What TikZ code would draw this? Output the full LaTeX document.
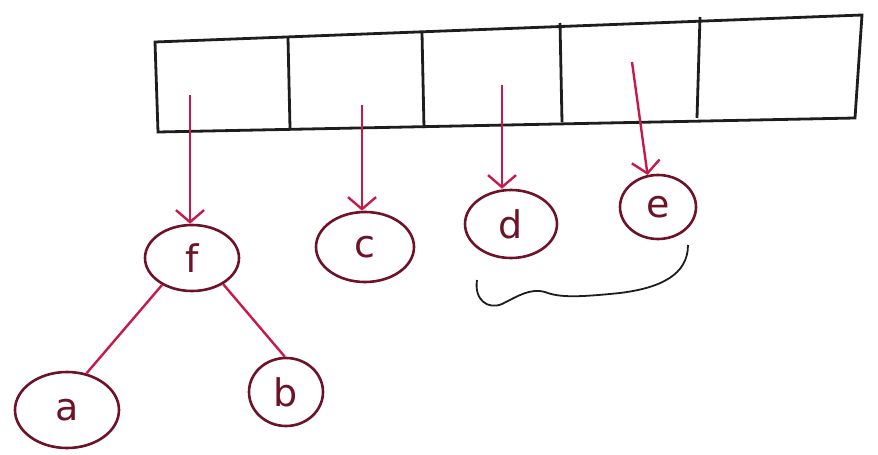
\documentclass[tikz,border=0pt]{standalone}
\usepackage{fontspec}
\setmainfont{DejaVu Sans}
\usetikzlibrary{shapes.geometric,arrows.meta}
\definecolor{ink}{RGB}{30,28,28}
\definecolor{pen}{RGB}{200,25,75}
\definecolor{circ}{RGB}{110,18,40}
\begin{document}
\begin{tikzpicture}[x=1pt,y=-1pt,
  arr/.style={line width=2.8pt,ink},
  ptr/.style={pen,line width=2.4pt,-{Straight Barb[length=12pt,width=28pt,line width=2.4pt]}},
  edge/.style={pen,line width=2.4pt},
  elem/.style={ellipse,draw=circ,line width=2.6pt,inner sep=0pt,text=circ,font=\fontsize{38}{38}\selectfont}]
\useasboundingbox (0,0) rectangle (878,455);
% array
\draw[arr] (155,42) -- (862,15) -- (855,118) -- (158,132) -- cycle;
\draw[arr] (288,38) -- (290,128);
\draw[arr] (422,33) -- (424,128);
\draw[arr] (560,23) -- (562,122);
\draw[arr] (700,17) -- (697,118);
\coordinate (p1) at (190,95);
\coordinate (p2) at (362,105);
\coordinate (p3) at (502,85);
\coordinate (p4) at (632,62);
% elements
\node[elem,minimum width=94pt,minimum height=66pt] (f) at (192,258) {f};
\node[elem,minimum width=98pt,minimum height=70pt] (c) at (365,247) {c};
\node[elem,minimum width=92pt,minimum height=68pt] (d) at (511,224) {d};
\node[elem,minimum width=76pt,minimum height=64pt] (e) at (658,207) {e};
\node[elem,minimum width=104pt,minimum height=76pt] (a) at (67,410) {a};
\node[elem,minimum width=74pt,minimum height=68pt] (b) at (286,392) {b};
% pointers
\draw[ptr] (p1) -- (p1 |- f.north);
\draw[ptr] (p2) -- (p2 |- c.north);
\draw[ptr] (p3) -- (p3 |- d.north);
\draw[ptr] (p4) -- (e.108);
% tree edges
\draw[edge] (f.222) -- (a.62);
\draw[edge] (f.320) -- (b.92);
% brace mark
\coordinate (br1) at (477,280);
\coordinate (br2) at (688,245);
\draw[ink,line width=1.8pt] (br1) .. controls (474,300) and (488,310) .. (502,304)
  .. controls (518,296) and (530,288) .. (545,292)
  .. controls (560,298) and (580,297) .. (620,293)
  .. controls (660,288) and (688,275) .. (br2);
\end{tikzpicture}
\end{document}
